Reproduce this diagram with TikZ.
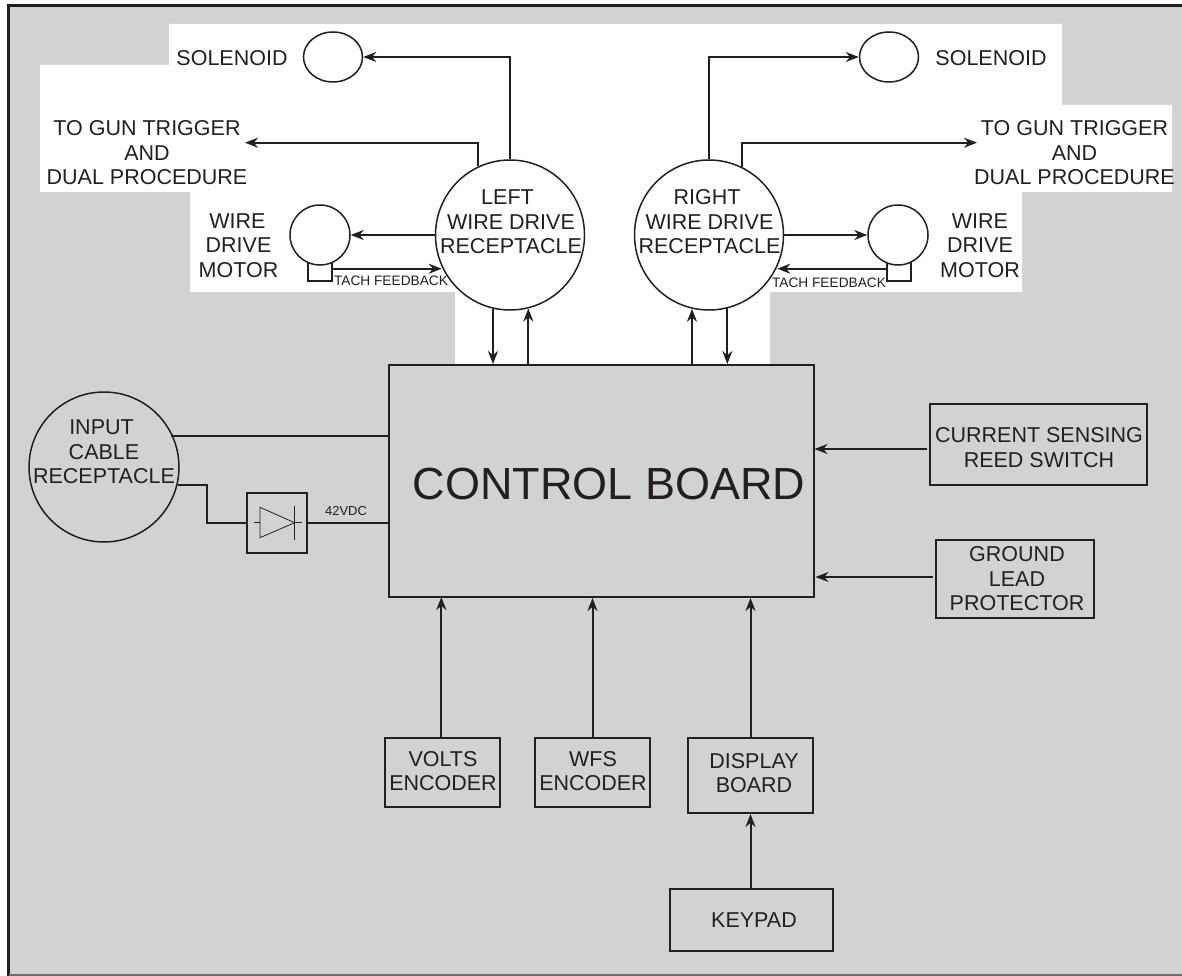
\documentclass[tikz,border=0pt]{standalone}
\usepackage{fontspec}
\setmainfont{Liberation Sans}
\usetikzlibrary{arrows.meta,shapes.geometric}
\definecolor{panel}{HTML}{D1D2D4}
\definecolor{ink}{HTML}{231F20}
\tikzset{
  txt/.style={text=ink,align=center,inner sep=0pt,font=\fontsize{21.5}{24.5}\selectfont},
  small/.style={text=ink,inner sep=0pt,font=\fontsize{13.7}{16}\selectfont},
  oval/.style={ellipse,draw=ink,fill=white,line width=1.5pt,inner sep=0pt},
  bx/.style={rectangle,draw=ink,line width=2pt,inner sep=0pt},
  wire/.style={draw=ink,line width=2pt},
  arr/.style={wire,-{Stealth[length=13pt,width=10pt]}},
}
\begin{document}
\begin{tikzpicture}[x=1pt,y=-1pt]
\useasboundingbox (0,0) rectangle (1182,976);
\fill[white] (0,0) rectangle (1182,976);
\fill[panel] (8,6) rectangle (1182,976);
\draw[ink,line width=3pt] (1182,6) -- (8.5,6) -- (8.5,976);
\draw[ink!65,line width=1.5pt] (8.5,975) -- (1182,975);
\fill[white] (169,24) -- (1062,24) -- (1062,105) -- (1172,105) -- (1172,192) -- (1022,192) -- (1022,292) -- (770,292) -- (770,365) -- (455,365) -- (455,292) -- (190,292) -- (190,192) -- (40,192) -- (40,65) -- (169,65) -- cycle;

% shapes
\node[bx,minimum width=24pt,minimum height=19pt] (tachL) at (320,271) {};
\node[bx,minimum width=24pt,minimum height=19pt] (tachR) at (898.5,271) {};
\node[oval,minimum width=59pt,minimum height=50pt] (solL) at (333,57) {};
\node[oval,minimum width=59pt,minimum height=50pt] (solR) at (889,57) {};
\node[oval,minimum width=149pt,minimum height=150pt] (lrec) at (510,235) {};
\node[oval,minimum width=149pt,minimum height=150pt] (rrec) at (709,235) {};
\node[oval,minimum width=60pt,minimum height=60pt] (motL) at (320,235) {};
\node[oval,minimum width=60pt,minimum height=60pt] (motR) at (898,235) {};
\node[oval,fill=none,minimum width=150pt,minimum height=150pt] (inp) at (104,467) {};
\node[bx,minimum width=425pt,minimum height=232pt] (ctrl) at (601,481) {};
\node[bx,minimum width=60pt,minimum height=60pt] (diode) at (277,523) {};
\node[bx,minimum width=217pt,minimum height=81pt] (cur) at (1038.5,444.7) {};
\node[bx,minimum width=158pt,minimum height=78pt] (gnd) at (1015,579) {};
\node[bx,minimum width=115pt,minimum height=69pt] (volts) at (442.5,772.2) {};
\node[bx,minimum width=115pt,minimum height=69pt] (wfs) at (592.5,772.2) {};
\node[bx,minimum width=125pt,minimum height=75pt] (disp) at (750.5,775.5) {};
\node[bx,minimum width=163pt,minimum height=62pt] (key) at (751.5,920) {};

% labels
\node[txt] (t1) at (232,58.5) {SOLENOID};
\node[txt] (t2) at (991,58.5) {SOLENOID};
\node[txt] (t3) at (147,153) {TO GUN TRIGGER\\AND\hspace*{4pt}\\DUAL PROCEDURE};
\node[txt] (t4) at (1074.5,153) {TO GUN TRIGGER\\AND\\DUAL PROCEDURE};
\node[txt] (t5) at (238.5,245.5) {WIRE\hspace*{2pt}\\DRIVE\hspace*{1pt}\\MOTOR};
\node[txt] (t6) at (980,245.5) {WIRE\\DRIVE\\MOTOR};
\node[txt] (t7) at (511,222) {LEFT\hspace*{7pt}\\WIRE DRIVE\hspace*{5pt}\\RECEPTACLE};
\node[txt] (t8) at (709.5,222) {RIGHT\hspace*{5pt}\\WIRE DRIVE\hspace*{4pt}\\RECEPTACLE};
\node[txt] (t9) at (104,452) {INPUT\hspace*{5pt}\\CABLE\hspace*{6pt}\\RECEPTACLE};
\node[txt,font=\fontsize{45}{50}\selectfont] (t10) at (609,484) {CONTROL BOARD};
\node[txt] (t11) at (1039,447.5) {CURRENT SENSING\\REED SWITCH};
\node[txt] (t12) at (1017,579) {GROUND\\LEAD\\PROTECTOR};
\node[txt] (t13) at (443,771) {VOLTS\\ENCODER};
\node[txt] (t14) at (593,771) {WFS\\ENCODER};
\node[txt] (t15) at (754,773) {DISPLAY\\BOARD};
\node[txt] (t16) at (754,920) {KEYPAD};
\node[small] (t17) at (391,281) {TACH FEEDBACK};
\node[small] (t18) at (829,283) {TACH FEEDBACK};
\node[small,font=\fontsize{13}{15}\selectfont] (t19) at (346,511.5) {42VDC};

% free ends
\coordinate (gunL) at (245,142.7);
\coordinate (gunR) at (977,142.7);

% connectors, left
\draw[arr] (lrec.north) |- (solL.east);
\draw[arr] (lrec.115.6) |- (gunL);
\draw[arr] (lrec.west |- motL) -- (motL.east);
\coordinate (tl) at (tachL.east |- 0,268.7);
\draw[arr] (tl) -- (tl -| lrec.205);
\draw[arr] (lrec.-103.1) -- (lrec.-103.1 |- ctrl.north);
\draw[arr] (lrec.-76.9 |- ctrl.north) -- (lrec.-76.9);
% connectors, right
\draw[arr] (rrec.north) |- (solR.west);
\draw[arr] (rrec.64.4) |- (gunR);
\draw[arr] (rrec.east |- motR) -- (motR.west);
\coordinate (tr) at (tachR.west |- 0,268.7);
\draw[arr] (tr) -- (tr -| rrec.-25);
\draw[arr] (rrec.-103.1 |- ctrl.north) -- (rrec.-103.1);
\draw[arr] (rrec.-76.9) -- (rrec.-76.9 |- ctrl.north);
% connectors, left side
\coordinate (i1) at (ctrl.west |- 0,436);
\draw[wire] (inp.26) -- (i1 -| inp.26) -- (i1);
\draw[wire] (inp.-14) -| (207,523) -- (diode.west);
\draw[wire] (diode.east) -- (ctrl.west |- diode);
% diode symbol
\draw[ink,line width=.8pt] (260,507.3) -- (260,537.7) -- (294.7,522.7) -- cycle;
\draw[ink,line width=.8pt] (294.7,505.7) -- (294.7,540) (254,522.7) -- (260,522.7) (294.7,522.7) -- (301.7,522.7);
% connectors, right side and bottom
\draw[arr] ([xshift=-2pt]cur.west |- 0,449) -- (ctrl.east |- 0,449);
\draw[arr] ([xshift=-2pt]gnd.west |- 0,577) -- ([xshift=1pt]ctrl.east |- 0,577);
\draw[arr] (441.3,737.7) -- (441.3,597);
\draw[arr] (wfs.north) -- (wfs.north |- ctrl.south);
\draw[arr] (disp.north) -- (disp.north |- ctrl.south);
\draw[arr] (disp.south |- key.north) -- (disp.south);
\end{tikzpicture}
\end{document}
